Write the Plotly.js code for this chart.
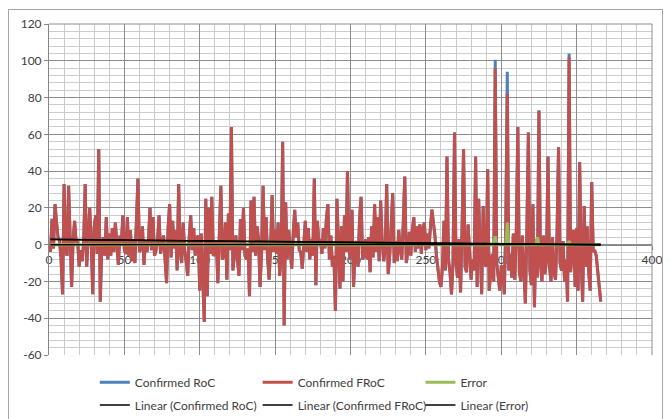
<!DOCTYPE html>
<html>
<head>
<meta charset="utf-8">
<script src="https://cdn.plot.ly/plotly-3.0.1.min.js"></script>
<style>
  html, body { margin: 0; padding: 0; background: #ffffff; }
  #chart { width: 670px; height: 419px; }
  #frame { position: absolute; left: 8px; top: 9px; width: 653px; height: 420px;
           border: 1px solid #a6a6a6; pointer-events: none; }
</style>
</head>
<body>
<div id="chart"></div>
<div id="frame"></div>
<script>
// Daily confirmed forecast rate of change (FRoC), days 1..366
const confirmedFRoC = [
  -4, 14, -2, 22, 12, 4, 2, -8, -27, 33,
  -3, -6, 32, 8, -23, 3, 13, 1, 2, -12,
  -3, -9, 1, 33, -12, 4, 20, 2, -27, 10,
  16, -5, 52, -31, -2, 4, -6, 15, -8, 6,
  -6, 9, -4, 12, -2, -11, 5, 1, 16, -3,
  -5, 15, -6, 8, -9, 3, -10, 12, 36, -4,
  -2, 10, -11, 2, -4, 3, 20, -3, 15, -6,
  -3, 2, 16, -5, 1, 5, -8, -21, 9, 22,
  -7, 13, -2, 8, -14, 33, -4, -10, 12, -3,
  -9, -17, 4, 16, -3, 9, -6, 3, 5, -25,
  6, -23, -42, 25, -28, 20, -5, 26, -6, -5,
  2, -21, 10, 32, -8, -6, 12, -19, 17, -3,
  64, -14, -6, 5, -8, -17, 14, -3, 20, -6,
  -8, -2, -28, 24, -4, 26, -6, 10, 3, -23,
  -4, 32, -3, 15, -7, -19, -2, 27, -4, 8,
  -5, 12, -17, -6, 56, -44, 23, -8, 8, -2,
  -13, 6, 19, 4, 12, -3, -4, -13, 2, 13,
  -4, 9, -8, 3, -6, 36, -22, 13, 2, 3,
  -5, 9, -2, 14, 22, -8, 5, -12, -6, -36,
  25, -6, -24, 10, -20, 16, -4, 40, -3, -8,
  19, -23, -5, 2, -12, 14, 26, -8, -6, 3,
  -8, 4, -15, 10, -7, 22, -4, 15, -9, 24,
  2, -9, -3, 33, -16, -6, 14, 28, -10, 2,
  -9, 8, -3, -8, 12, 37, -10, -4, 7, -6,
  8, 15, -4, 10, -2, 11, -5, 9, 12, -3,
  6, -2, 9, 19, 12, 5, -6, -14, -20, -23,
  -12, 13, -14, 48, -8, -15, -27, -10, 61, -10,
  -18, 3, -26, 9, 52, -12, -15, 11, -8, -19,
  -8, -14, 48, -23, 25, -6, -27, 21, -10, -12,
  41, -25, -12, -5, -20, 96, -10, -18, -25, -12,
  -12, -27, 10, 82, -14, -5, -18, 6, -19, 8,
  64, -15, -20, 5, -12, -32, 8, 61, -14, -22,
  22, -34, 3, -18, 73, -10, -20, 5, -16, -8,
  48, -12, -20, 4, -15, -19, 6, 53, -10, -14,
  2, -20, -8, -31, 102, -15, -5, 8, -23, 9,
  -25, 45, -8, -31, 21, -12, 10, -15, -25, 34,
  -4, -3, -6, -14, -22, -31
];

// Days where the confirmed RoC differs from the forecast (the error), and by how much
const errorDays = [296, 304, 324, 345];
const errorValues = [4.5, 12, 4, 2];

const seriesNames = ['Confirmed RoC', 'Confirmed FRoC', 'Error'];
const seriesColors = ['#4f81bd', '#c0504d', '#9bbb59'];

const xTicks = [0, 50, 100, 150, 200, 250, 300, 350, 400];
const yTicks = [-60, -40, -20, 0, 20, 40, 60, 80, 100, 120];

// Assemble day index, error and RoC series
const days = confirmedFRoC.map((_, i) => i + 1);
const error = days.map(d => {
  const k = errorDays.indexOf(d);
  return k >= 0 ? errorValues[k] : 0;
});
const confirmedRoC = confirmedFRoC.map((v, i) => v + error[i]);

// Least-squares linear trendline over the full span of a series
function linearTrend(xs, ys) {
  const n = xs.length;
  let sx = 0, sy = 0, sxx = 0, sxy = 0;
  for (let i = 0; i < n; i++) {
    sx += xs[i]; sy += ys[i]; sxx += xs[i] * xs[i]; sxy += xs[i] * ys[i];
  }
  const slope = (n * sxy - sx * sy) / (n * sxx - sx * sx);
  const icpt = (sy - slope * sx) / n;
  const x0 = xs[0], x1 = xs[n - 1];
  return { x: [x0, x1], y: [icpt + slope * x0, icpt + slope * x1] };
}

const values = [confirmedRoC, confirmedFRoC, error];
const textFont = { family: 'Lato, "Open Sans", sans-serif', size: 12, color: '#404040' };

// One single-entry legend per series, laid out as a 3 x 2 grid under the plot
const legendCols = [0.076, 0.346, 0.616];
const legendRows = [-0.082, -0.151];
const legendIds = ['legend', 'legend2', 'legend3', 'legend4', 'legend5', 'legend6'];

const traces = [];
values.forEach((ys, k) => {
  traces.push({
    type: 'scatter', mode: 'lines', x: days, y: ys, name: seriesNames[k],
    line: { color: seriesColors[k], width: 3 }, legend: legendIds[k]
  });
});
values.forEach((ys, k) => {
  const t = linearTrend(days, ys);
  traces.push({
    type: 'scatter', mode: 'lines', x: t.x, y: t.y,
    name: 'Linear (' + seriesNames[k] + ')',
    line: { color: '#000000', width: 1.5 }, legend: legendIds[3 + k]
  });
});

const major = '#8c8c8c', minor = '#cccccc';
const layout = {
  width: 670, height: 419,
  margin: { l: 49, r: 18, t: 24, b: 64, autoexpand: false },
  paper_bgcolor: '#ffffff', plot_bgcolor: '#ffffff',
  font: textFont,
  showlegend: true,
  xaxis: {
    range: [0, 400], tickvals: xTicks, ticktext: xTicks.map(String),
    showgrid: true, gridcolor: major, gridwidth: 1,
    minor: { dtick: 10, tick0: 0, showgrid: true, gridcolor: minor, gridwidth: 1 },
    anchor: 'free', position: 60 / 180,
    showline: true, linecolor: '#868686', linewidth: 1,
    ticks: 'outside', ticklen: 4, tickcolor: '#868686',
    zeroline: false, layer: 'below traces', tickfont: textFont
  },
  yaxis: {
    range: [-60, 120], tickvals: yTicks, ticktext: yTicks.map(String),
    showgrid: true, gridcolor: major, gridwidth: 1,
    minor: { dtick: 4, tick0: 0, showgrid: true, gridcolor: minor, gridwidth: 1 },
    showline: true, linecolor: '#868686', linewidth: 1,
    ticks: 'outside', ticklen: 4, tickcolor: '#868686',
    zeroline: false, tickfont: textFont
  },
  shapes: [
    { type: 'line', xref: 'paper', yref: 'paper', x0: 0, x1: 1, y0: 1, y1: 1,
      line: { color: major, width: 1 } },
    { type: 'line', xref: 'paper', yref: 'paper', x0: 1, x1: 1, y0: 0, y1: 1,
      line: { color: major, width: 1 } }
  ],
  hovermode: false
};
legendIds.forEach((id, i) => {
  layout[id] = {
    orientation: 'h', x: legendCols[i % 3], xanchor: 'left',
    y: legendRows[Math.floor(i / 3)], yanchor: 'middle',
    font: textFont, bgcolor: 'rgba(0,0,0,0)'
  };
});

Plotly.newPlot('chart', traces, layout, { displayModeBar: false, staticPlot: true });
</script>
</body>
</html>
